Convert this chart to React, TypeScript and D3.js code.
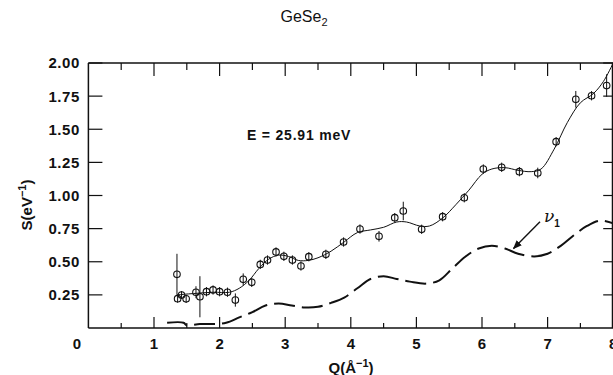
import React from "react";
import * as d3 from "d3";

// measured data points: Q (Å^-1), S (eV^-1), error
const pointQ = [1.35, 1.36, 1.42, 1.49, 1.64, 1.70, 1.80, 1.90, 2.00, 2.12, 2.24, 2.36, 2.49, 2.62, 2.73, 2.86, 2.98, 3.11, 3.24, 3.36, 3.62, 3.89, 4.14, 4.43, 4.67, 4.80, 5.08, 5.40, 5.73, 6.02, 6.30, 6.57, 6.85, 7.13, 7.43, 7.67, 7.90];
const pointS = [0.405, 0.221, 0.249, 0.22, 0.27, 0.236, 0.274, 0.287, 0.274, 0.27, 0.211, 0.367, 0.345, 0.48, 0.513, 0.574, 0.541, 0.513, 0.468, 0.538, 0.556, 0.649, 0.747, 0.692, 0.833, 0.883, 0.745, 0.84, 0.983, 1.20, 1.213, 1.18, 1.17, 1.406, 1.726, 1.753, 1.83];
const pointErr = [0.155, 0.03, 0.03, 0.03, 0.045, 0.155, 0.035, 0.035, 0.035, 0.035, 0.05, 0.045, 0.035, 0.035, 0.035, 0.035, 0.035, 0.035, 0.035, 0.035, 0.035, 0.035, 0.035, 0.04, 0.035, 0.07, 0.035, 0.035, 0.035, 0.035, 0.035, 0.035, 0.04, 0.035, 0.063, 0.035, 0.085];

// smooth fit through the data
const fitQ = [1.35, 1.6, 1.9, 2.15, 2.3, 2.45, 2.6, 2.75, 2.9, 3.05, 3.2, 3.35, 3.5, 3.7, 3.9, 4.1, 4.3, 4.5, 4.7, 4.85, 5.05, 5.2, 5.4, 5.6, 5.8, 6.0, 6.15, 6.35, 6.55, 6.75, 6.9, 7.1, 7.3, 7.5, 7.7, 7.85, 8.0];
const fitS = [0.25, 0.26, 0.27, 0.27, 0.30, 0.36, 0.45, 0.52, 0.55, 0.54, 0.51, 0.51, 0.53, 0.58, 0.65, 0.72, 0.74, 0.76, 0.80, 0.80, 0.77, 0.77, 0.83, 0.93, 1.04, 1.16, 1.20, 1.21, 1.19, 1.18, 1.20, 1.35, 1.55, 1.70, 1.77, 1.86, 2.0];

// dashed curve (nu_1 component)
const dashQ = [1.2, 1.45, 1.5, 1.7, 1.9, 2.1, 2.3, 2.5, 2.7, 2.9, 3.1, 3.3, 3.5, 3.7, 3.9, 4.1, 4.3, 4.5, 4.7, 4.9, 5.15, 5.35, 5.55, 5.75, 5.95, 6.15, 6.35, 6.55, 6.8, 7.0, 7.2, 7.4, 7.6, 7.8, 8.0];
const dashS = [0.04, 0.04, 0.02, 0.03, 0.03, 0.04, 0.08, 0.12, 0.17, 0.185, 0.17, 0.155, 0.16, 0.19, 0.23, 0.30, 0.37, 0.39, 0.37, 0.35, 0.335, 0.36, 0.45, 0.54, 0.60, 0.62, 0.60, 0.56, 0.54, 0.56, 0.62, 0.70, 0.77, 0.81, 0.79];

const xTickLabels = ["0", "1", "2", "3", "4", "5", "6", "7", "8"];
const yTickLabels = ["0.25", "0.50", "0.75", "1.00", "1.25", "1.50", "1.75", "2.00"];

const W = 613;
const H = 375;
const FONT = "'Liberation Sans', Arial, Helvetica, sans-serif";

export default function App() {
  const x = d3.scaleLinear().domain([0, 8]).range([88.4, 613.2]);
  const y = d3.scaleLinear().domain([0, 2]).range([328, 63]);

  const fitLine = d3
    .line<number>()
    .x((_, i) => x(fitQ[i]))
    .y((d) => y(d))
    .curve(d3.curveCatmullRom.alpha(0.5));
  const dashLine = d3
    .line<number>()
    .x((_, i) => x(dashQ[i]))
    .y((d) => y(d))
    .curve(d3.curveCatmullRom.alpha(0.5));

  const halfTicks = d3.range(1, 16).map((k) => k / 2);
  const x0 = x(0), x8 = x(8), y0 = y(0), y2 = y(2);

  return (
    <svg
      width={W}
      height={H}
      style={{ position: "absolute", left: 0, top: 0, background: "#fff" }}
      fontFamily={FONT}
    >
      {/* title */}
      <text x={304} y={22} textAnchor="middle" fontSize={16} fill="#111">
        GeSe<tspan fontSize={11} dy={4}>2</tspan>
      </text>

      {/* frame */}
      <g stroke="#111" strokeWidth={1.5} fill="none">
        <line x1={x0} y1={y0} x2={x8} y2={y0} />
        <line x1={x0} y1={y2} x2={x8} y2={y2} />
        <line x1={x0} y1={y0} x2={x0} y2={y2} />
        <line x1={612.5} y1={y0} x2={612.5} y2={y2} />
      </g>

      {/* x ticks */}
      <g stroke="#111" strokeWidth={1.2}>
        {halfTicks.map((q) => {
          const major = Number.isInteger(q);
          return (
            <g key={q}>
              <line x1={x(q)} x2={x(q)} y1={y0} y2={y0 - (major ? 11 : 5)} />
              <line x1={x(q)} x2={x(q)} y1={y2} y2={y2 + (major ? 13 : 7)} />
            </g>
          );
        })}
      </g>
      {/* y ticks */}
      <g stroke="#111" strokeWidth={1.2}>
        {yTickLabels.map((t) => {
          const v = +t;
          return (
            <g key={t}>
              <line x1={x0} x2={x0 + 14} y1={y(v)} y2={y(v)} />
              <line x1={x8} x2={x8 - 10} y1={y(v)} y2={y(v)} />
            </g>
          );
        })}
      </g>

      {/* tick labels */}
      <g fontSize={15} fontWeight="bold" fill="#111">
        {xTickLabels.map((t) => (
          <text key={t} x={t === "0" ? 77 : x(+t)} y={349} textAnchor="middle">
            {t}
          </text>
        ))}
        {yTickLabels.map((t) => (
          <text key={t} x={80} y={y(+t)} dy="0.36em" textAnchor="end" letterSpacing={0.6}>
            {t}
          </text>
        ))}
      </g>

      {/* axis titles */}
      <text x={351} y={373} textAnchor="middle" fontSize={15} fontWeight="bold" fill="#111">
        Q(Å<tspan fontSize={11} dy={-6}>−1</tspan>
        <tspan dy={6}>)</tspan>
      </text>
      <text
        transform="translate(32,205) rotate(-90)"
        textAnchor="middle"
        fontSize={15}
        fontWeight="bold"
        fill="#111"
      >
        S(eV<tspan fontSize={11} dy={-6}>−1</tspan>
        <tspan dy={6}>)</tspan>
      </text>

      {/* dashed curve */}
      <path d={dashLine(dashS) || ""} fill="none" stroke="#111" strokeWidth={2} strokeDasharray="21,7" />

      {/* fit curve */}
      <path d={fitLine(fitS) || ""} fill="none" stroke="#111" strokeWidth={1} />

      {/* data points with error bars */}
      <g stroke="#111" fill="none">
        {pointS.map((s, i) => (
          <g key={i}>
            <line
              x1={x(pointQ[i])}
              x2={x(pointQ[i])}
              y1={y(s - pointErr[i])}
              y2={y(s + pointErr[i])}
              strokeWidth={1}
            />
            <circle cx={x(pointQ[i])} cy={y(s)} r={3.3} strokeWidth={1.1} fill="none" />
          </g>
        ))}
      </g>

      {/* annotation */}
      <text x={247} y={140} fontSize={14} fontWeight="bold" fill="#111" letterSpacing={0.8}>
        E = 25.91  meV
      </text>

      {/* nu_1 arrow */}
      <defs>
        <marker id="ah" viewBox="0 0 10 10" refX={9} refY={5} markerWidth={9} markerHeight={9} markerUnits="userSpaceOnUse" orient="auto">
          <path d="M0,1 L10,5 L0,9 z" fill="#111" />
        </marker>
      </defs>
      <line x1={540} y1={221.7} x2={513.5} y2={248.5} stroke="#111" strokeWidth={1.4} markerEnd="url(#ah)" />
      <text x={544} y={222} fontSize={17} fontStyle="italic" fill="#111" fontFamily="'DejaVu Serif', serif">
        ν<tspan fontSize={10} dy={5} fontStyle="normal" fontFamily={FONT} fontWeight="bold">1</tspan>
      </text>
    </svg>
  );
}
